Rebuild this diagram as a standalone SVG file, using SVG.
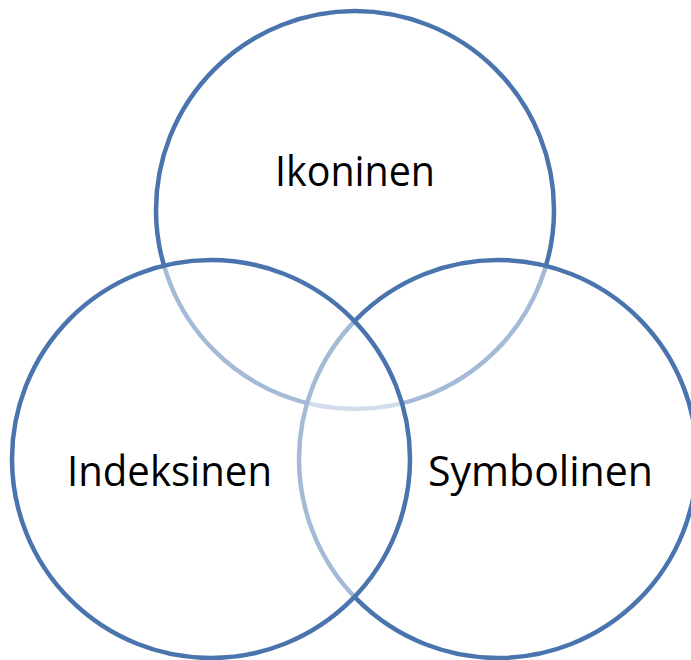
<svg xmlns="http://www.w3.org/2000/svg" width="691" height="660" viewBox="0 0 691 660">
  <style>
    .ring { fill: #ffffff; fill-opacity: 0.5; stroke: #4a74ad; stroke-width: 4.5; }
    .label { font-family: "Open Sans", "Liberation Sans", sans-serif; font-size: 42px; fill: #000000; text-anchor: middle; }
  </style>
  <rect width="691" height="660" fill="#ffffff"/>
  <!-- circles drawn back to front; the translucent white fill softens strokes beneath -->
  <g id="ikoninen">
    <circle class="ring" cx="355" cy="210" r="199"/>
    <text class="label" x="355" y="186" textLength="160" lengthAdjust="spacingAndGlyphs">Ikoninen</text>
  </g>
  <g id="symbolinen">
    <circle class="ring" cx="498" cy="459" r="199"/>
    <text class="label" x="540.5" y="486" textLength="225" lengthAdjust="spacingAndGlyphs">Symbolinen</text>
  </g>
  <g id="indeksinen">
    <circle class="ring" cx="211" cy="459" r="199"/>
    <text class="label" x="169.5" y="486" textLength="205" lengthAdjust="spacingAndGlyphs">Indeksinen</text>
  </g>
  <g id="connectors"/>
</svg>
